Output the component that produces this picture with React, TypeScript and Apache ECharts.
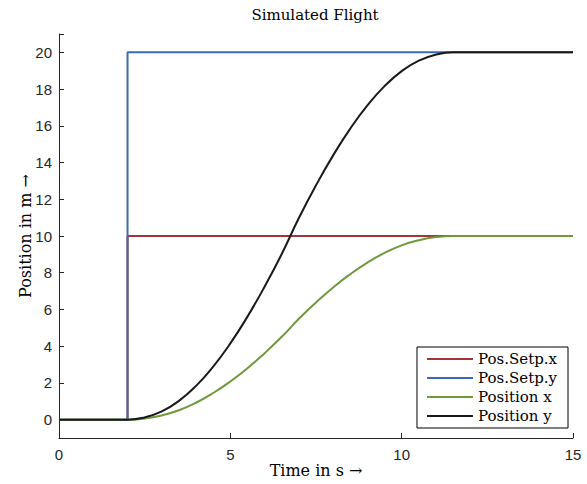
import React, { useEffect, useRef } from 'react';
import * as echarts from 'echarts';

// Time axis samples (s) for the simulated positions
const timeS = [0, 2, 2.5, 3, 3.5, 4, 4.5, 5, 5.5, 6, 6.5, 7, 7.5, 8, 8.5, 9, 9.5, 10, 10.5, 11, 11.5, 12, 15];
const positionY = [0, 0, 0.12, 0.45, 1.02, 1.84, 2.89, 4.15, 5.61, 7.24, 9.02, 10.98, 12.76, 14.39, 15.85, 17.11, 18.16, 18.98, 19.55, 19.88, 20, 20, 20];
const positionX = [0, 0, 0.06, 0.23, 0.51, 0.92, 1.45, 2.08, 2.8, 3.62, 4.51, 5.49, 6.38, 7.2, 7.92, 8.55, 9.08, 9.49, 9.77, 9.94, 10, 10, 10];

// Setpoint step signals
const stepTimes = [0, 2, 2, 15];
const setpX = [0, 0, 10, 10];
const setpY = [0, 0, 20, 20];

const seriesNames = ['Pos.Setp.x', 'Pos.Setp.y', 'Position x', 'Position y'];
const xTicks = [0, 5, 10, 15];

const SERIF = '"DejaVu Serif", "Liberation Serif", serif';
const SANS = '"Liberation Sans", Arial, sans-serif';
const AXIS = '#262626';

const zip = (xs: number[], ys: number[]) => xs.map((x, i) => [x, ys[i]]);

export default function App() {
  const ref = useRef<HTMLDivElement>(null);
  useEffect(() => {
    if (!ref.current) return;
    const chart = echarts.init(ref.current, undefined, { renderer: 'svg' });
    const colors = ['#A33538', '#3D6BB0', '#6F9A3C', '#1A1A1A'];
    const lineSeries = (name: string, data: number[][], color: string, smooth: boolean) => ({
      name,
      type: 'line',
      data,
      symbol: 'none',
      smooth: smooth ? 0.5 : false,
      lineStyle: { color, width: 2 },
      itemStyle: { color },
      z: 2,
    });
    chart.setOption({
      animation: false,
      backgroundColor: '#fff',
      title: {
        text: 'Simulated Flight',
        left: 310,
        textAlign: 'center',
        top: 2,
        textStyle: { fontFamily: SERIF, fontSize: 15, fontWeight: 'normal', color: '#000' },
      },
      grid: { left: 59, right: 14, top: 34, bottom: 46, containLabel: false, outerBoundsMode: 'none' },
      xAxis: {
        type: 'value',
        min: 0,
        max: 15,
        interval: 5,
        name: 'Time in s \u2192',
        nameLocation: 'middle',
        nameGap: 24,
        nameMoveOverlap: false,
        nameTextStyle: { fontFamily: SERIF, fontSize: 16, color: '#000' },
        axisLine: { show: true, onZero: false, lineStyle: { color: AXIS, width: 1 } },
        axisTick: { show: true, inside: true, length: 5, lineStyle: { color: AXIS } },
        axisLabel: {
          margin: 9,
          fontFamily: SANS,
          fontSize: 15,
          color: AXIS,
          formatter: (v: number) => (xTicks.includes(v) ? String(v) : ''),
        },
        splitLine: { show: false },
      },
      yAxis: {
        type: 'value',
        min: -1,
        max: 21,
        splitNumber: 11,
        minInterval: 2,
        maxInterval: 2,
        name: 'Position in m \u2192',
        nameLocation: 'middle',
        nameGap: 26,
        nameMoveOverlap: false,
        nameRotate: 90,
        nameTextStyle: { fontFamily: SERIF, fontSize: 16, color: '#000' },
        axisLine: { show: true, onZero: false, lineStyle: { color: AXIS, width: 1 } },
        axisTick: { show: true, inside: true, length: 5, lineStyle: { color: AXIS } },
        axisLabel: {
          margin: 7,
          fontFamily: SANS,
          fontSize: 15,
          color: AXIS,
          formatter: (v: number) => (Math.abs(v % 2) < 1e-9 ? String(v) : ''),
        },
        splitLine: { show: false },
      },
      legend: {
        data: seriesNames,
        orient: 'vertical',
        right: 19,
        bottom: 56,
        icon: 'rect',
        itemWidth: 46,
        itemHeight: 2,
        itemGap: 3,
        padding: [4, 11, 4, 10],
        borderColor: '#000',
        borderWidth: 1,
        borderRadius: 0,
        backgroundColor: '#fff',
        textStyle: { fontFamily: SERIF, fontSize: 15, color: '#000', lineHeight: 16 },
        z: 10,
      },
      series: [
        lineSeries(seriesNames[0], zip(stepTimes, setpX), colors[0], false),
        lineSeries(seriesNames[1], zip(stepTimes, setpY), colors[1], false),
        lineSeries(seriesNames[2], zip(timeS, positionX), colors[2], true),
        lineSeries(seriesNames[3], zip(timeS, positionY), colors[3], true),
      ],
    });
    return () => chart.dispose();
  }, []);
  return <div ref={ref} style={{ position: 'fixed', left: 0, top: 0, width: 587, height: 484 }} />;
}
